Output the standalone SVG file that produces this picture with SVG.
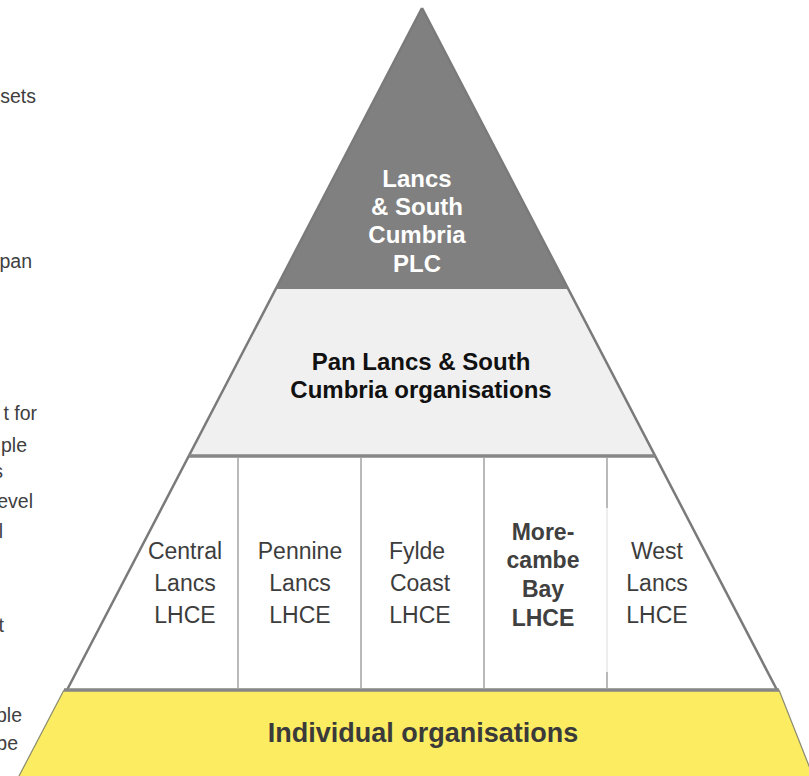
<svg xmlns="http://www.w3.org/2000/svg" width="809" height="776" viewBox="0 0 809 776">
  <style>
    .side { font-family: "Liberation Sans", Arial, sans-serif; font-size: 19.5px; fill: #404040; text-anchor: end; }
    .top { font-family: "Liberation Sans", Arial, sans-serif; font-size: 24px; font-weight: bold; fill: #ffffff; text-anchor: middle; }
    .band { font-family: "Liberation Sans", Arial, sans-serif; font-size: 24px; font-weight: bold; fill: #111111; text-anchor: middle; }
    .cell { font-family: "Liberation Sans", Arial, sans-serif; font-size: 23px; fill: #3d3d3d; text-anchor: middle; }
    .cellb { font-family: "Liberation Sans", Arial, sans-serif; font-size: 23px; font-weight: bold; fill: #404040; text-anchor: middle; }
    .base { font-family: "Liberation Sans", Arial, sans-serif; font-size: 27px; font-weight: bold; fill: #3a3a3a; text-anchor: middle; }
    .edge { stroke: #7a7a7a; stroke-width: 2.5; fill: none; }
    .tier { stroke: #868686; stroke-width: 3.5; fill: none; }
    .div { stroke: #a2a2a2; stroke-width: 1.5; fill: none; }
  </style>

  <rect x="0" y="0" width="809" height="776" fill="#ffffff"/>

  <!-- text running off the left margin -->
  <g id="side-notes">
    <text class="side" x="36" y="103">sets</text>
    <text class="side" x="32" y="268">pan</text>
    <text class="side" x="37" y="420">t for</text>
    <text class="side" x="27" y="452">ple</text>
    <text class="side" x="3" y="478">s</text>
    <text class="side" x="33" y="508">evel</text>
    <text class="side" x="3" y="538">l</text>
    <text class="side" x="4" y="632">t</text>
    <text class="side" x="22" y="722">ple</text>
    <text class="side" x="18" y="750">be</text>
  </g>

  <!-- base tier -->
  <g id="individual">
    <polygon points="64,690 779,690 813,776 19,776" fill="#fcec62"/>
    <line x1="64" y1="690" x2="19" y2="776" stroke="#8a8a70" stroke-width="1.2"/>
    <line x1="779" y1="690" x2="813" y2="776" stroke="#8a8a70" stroke-width="1.2"/>
    <text class="base" x="423" y="742">Individual organisations</text>
  </g>

  <!-- LHCE tier -->
  <g id="lhce-tier">
    <polygon points="189,456 655,456 777,690 67,690" fill="#ffffff"/>
  </g>

  <!-- pan-regional tier -->
  <g id="pan-tier">
    <polygon points="276,289 568,289 655,456 189,456" fill="#f0f0f0"/>
    <text class="band" x="421" y="370">Pan Lancs &amp; South</text>
    <text class="band" x="421" y="398">Cumbria organisations</text>
  </g>

  <!-- apex -->
  <g id="plc">
    <polygon points="422,8 568,289 276,289" fill="#808080"/>
    <text class="top" x="417" y="187">Lancs</text>
    <text class="top" x="417" y="215">&amp; South</text>
    <text class="top" x="417" y="243">Cumbria</text>
    <text class="top" x="417" y="272">PLC</text>
  </g>

  <!-- outlines and tier separators -->
  <g id="connectors">
    <line class="edge" x1="422" y1="8" x2="67" y2="690"/>
    <line class="edge" x1="422" y1="8" x2="777" y2="690"/>
    <line class="tier" x1="189" y1="456" x2="655" y2="456"/>
    <line class="tier" x1="64" y1="690" x2="779" y2="690"/>
    <line class="div" x1="238" y1="458" x2="238" y2="688"/>
    <line class="div" x1="361" y1="458" x2="361" y2="688"/>
    <line class="div" x1="484" y1="458" x2="484" y2="688"/>
    <line class="div" x1="607" y1="458" x2="607" y2="508"/>
    <line x1="607" y1="508" x2="607" y2="672" stroke="#dcdcdc" stroke-width="1"/>
    <line class="div" x1="607" y1="672" x2="607" y2="688"/>
  </g>

  <g id="central-lancs">
    <text class="cell" x="185" y="559">Central</text>
    <text class="cell" x="185" y="591">Lancs</text>
    <text class="cell" x="185" y="623">LHCE</text>
  </g>
  <g id="pennine-lancs">
    <text class="cell" x="300" y="559">Pennine</text>
    <text class="cell" x="300" y="591">Lancs</text>
    <text class="cell" x="300" y="623">LHCE</text>
  </g>
  <g id="fylde-coast">
    <text class="cell" x="417" y="559">Fylde</text>
    <text class="cell" x="420" y="591">Coast</text>
    <text class="cell" x="420" y="623">LHCE</text>
  </g>
  <g id="morecambe-bay">
    <text class="cellb" x="543" y="540">More-</text>
    <text class="cellb" x="543" y="568">cambe</text>
    <text class="cellb" x="543" y="597">Bay</text>
    <text class="cellb" x="543" y="626">LHCE</text>
  </g>
  <g id="west-lancs">
    <text class="cell" x="657" y="559">West</text>
    <text class="cell" x="657" y="591">Lancs</text>
    <text class="cell" x="657" y="623">LHCE</text>
  </g>
</svg>
